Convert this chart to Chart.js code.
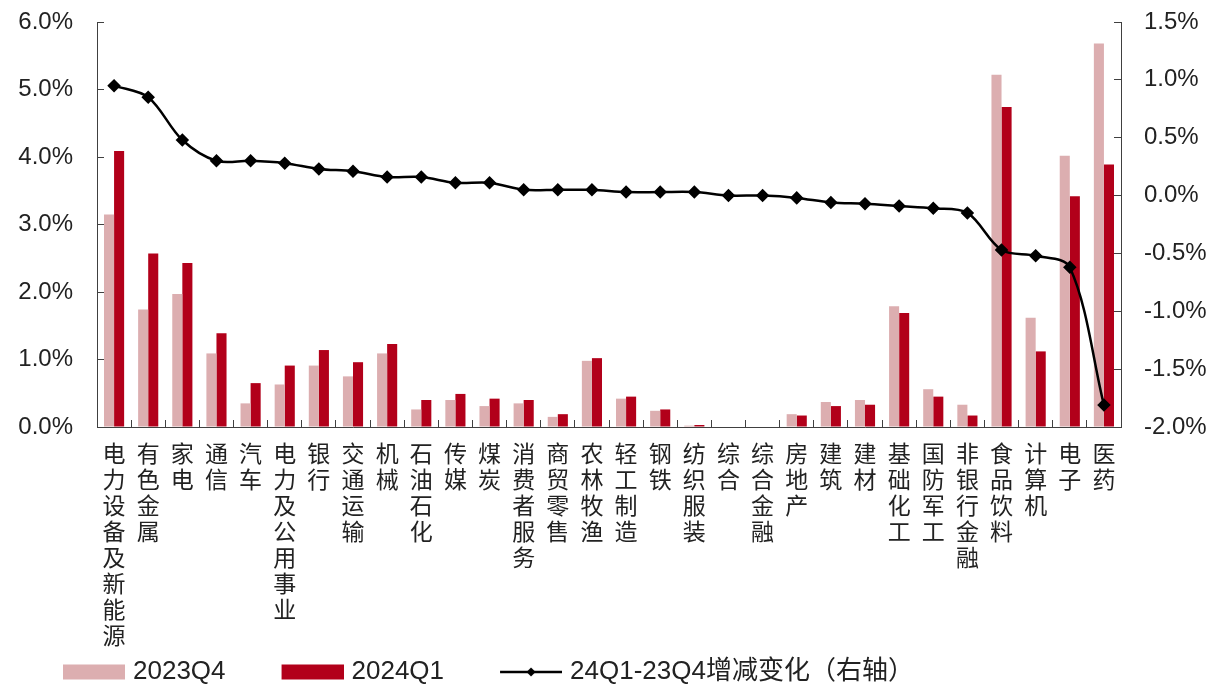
<!DOCTYPE html>
<html>
<head>
<meta charset="utf-8">
<script src="https://cdn.jsdelivr.net/npm/chart.js@4/dist/chart.umd.min.js"></script>
<style>
  body { margin: 0; background: #fff; }
</style>
</head>
<body>
<canvas id="myChart" width="1214" height="685"></canvas>
<script>
let categories = [
  "电力设备及新能源", "有色金属", "家电", "通信", "汽车", "电力及公用事业",
  "银行", "交通运输", "机械", "石油石化", "传媒", "煤炭", "消费者服务",
  "商贸零售", "农林牧渔", "轻工制造", "钢铁", "纺织服装", "综合", "综合金融",
  "房地产", "建筑", "建材", "基础化工", "国防军工", "非银行金融", "食品饮料",
  "计算机", "电子", "医药"
];

// holdings share, %
let q4Values = [3.15, 1.74, 1.97, 1.09, 0.35, 0.63, 0.91, 0.75, 1.09, 0.26,
  0.40, 0.31, 0.35, 0.15, 0.98, 0.42, 0.24, 0.02, 0, 0,
  0.19, 0.37, 0.40, 1.79, 0.56, 0.33, 5.22, 1.62, 4.02, 5.68];
let q1Values = [4.09, 2.57, 2.43, 1.39, 0.65, 0.91, 1.14, 0.96, 1.23, 0.40,
  0.49, 0.42, 0.40, 0.19, 1.02, 0.45, 0.26, 0.03, 0, 0,
  0.17, 0.31, 0.33, 1.69, 0.45, 0.17, 4.74, 1.12, 3.42, 3.89];
// change, right axis, %
let changeValues = [0.95, 0.85, 0.48, 0.30, 0.30, 0.28, 0.23, 0.21, 0.16, 0.16,
  0.11, 0.11, 0.05, 0.05, 0.05, 0.03, 0.03, 0.03, 0.00, 0.00,
  -0.02, -0.06, -0.07, -0.09, -0.11, -0.15, -0.47, -0.52, -0.62, -1.81];

let seriesNames = ["2023Q4", "2024Q1", "24Q1-23Q4增减变化（右轴）"];
let leftTicks = [0, 6, 1];
let rightTicks = [-2, 1.5, 0.5];

let pink = "#dcaeb0";
let red = "#b2001a";
let ink = "#222222";
let axisColor = "#404040";
let latin = "'Liberation Sans', Arial, 'Noto Sans CJK SC', sans-serif";
let cjk = "'Noto Sans CJK SC', sans-serif";

// legend swatches drawn into small canvases
let legendW = 103;
function swatch(kind, color) {
  let c = document.createElement("canvas");
  c.width = legendW + 10;
  c.height = 16;
  let g = c.getContext("2d");
  let x0 = c.width - 62;
  if (kind === "bar") {
    g.fillStyle = color;
    g.fillRect(x0, 0.5, 62, 15);
  } else {
    g.strokeStyle = color;
    g.lineWidth = 2.5;
    g.beginPath();
    g.moveTo(x0, 8);
    g.lineTo(c.width, 8);
    g.stroke();
    g.fillStyle = color;
    g.beginPath();
    let cx = x0 + 31;
    g.moveTo(cx, 3.5);
    g.lineTo(cx + 4.5, 8);
    g.lineTo(cx, 12.5);
    g.lineTo(cx - 4.5, 8);
    g.closePath();
    g.fill();
  }
  return c;
}

// fixed axis sizes so the plot area matches the original
function fixY(width) {
  return s => {
    s.width = width;
    s.paddingTop = 0;
    s.paddingBottom = 0;
  };
}

let ctx = document.getElementById("myChart").getContext("2d");

let myChart = new Chart(ctx, {
  data: {
    labels: categories.map(c => c.split("")),
    datasets: [
      {
        type: "line",
        label: seriesNames[2],
        data: changeValues,
        yAxisID: "y1",
        borderColor: "#000",
        backgroundColor: "#000",
        borderWidth: 2.5,
        tension: 0.33,
        pointStyle: "rectRot",
        pointRadius: 5,
        order: 0
      },
      {
        type: "bar",
        label: seriesNames[0],
        data: q4Values,
        yAxisID: "y",
        backgroundColor: pink,
        barPercentage: 1,
        categoryPercentage: 0.59,
        order: 1
      },
      {
        type: "bar",
        label: seriesNames[1],
        data: q1Values,
        yAxisID: "y",
        backgroundColor: red,
        barPercentage: 1,
        categoryPercentage: 0.59,
        order: 1
      }
    ]
  },
  options: {
    responsive: false,
    animation: false,
    devicePixelRatio: 1,
    layout: { padding: { left: 7, top: 22, right: 0, bottom: -10 } },
    plugins: {
      tooltip: { enabled: false },
      legend: {
        position: "bottom",
        align: "start",
        labels: {
          usePointStyle: true,
          pointStyleWidth: legendW,
          padding: 10,
          color: ink,
          font: { family: latin, size: 26 },
          generateLabels: function(chart) {
            return [
              { text: seriesNames[0], pointStyle: swatch("bar", pink), datasetIndex: 1, fillStyle: pink, strokeStyle: pink, lineWidth: 0, fontColor: ink },
              { text: seriesNames[1], pointStyle: swatch("bar", red), datasetIndex: 2, fillStyle: red, strokeStyle: red, lineWidth: 0, fontColor: ink },
              { text: seriesNames[2], pointStyle: swatch("line", "#000"), datasetIndex: 0, fillStyle: "#000", strokeStyle: "#000", lineWidth: 0, fontColor: ink }
            ];
          }
        }
      }
    },
    scales: {
      x: {
        afterFit: s => { s.height = 222; },
        grid: { drawOnChartArea: false, tickLength: -7, color: axisColor },
        border: { color: axisColor, width: 1 },
        ticks: {
          autoSkip: false,
          maxRotation: 0,
          minRotation: 0,
          padding: 20,
          color: ink,
          font: { family: cjk, size: 23, lineHeight: "26px" }
        }
      },
      y: {
        position: "left",
        min: leftTicks[0],
        max: leftTicks[1],
        afterFit: fixY(90),
        grid: { drawOnChartArea: false, tickLength: -7, color: axisColor },
        border: { color: axisColor, width: 1 },
        ticks: {
          stepSize: leftTicks[2],
          padding: 31,
          color: ink,
          font: { family: latin, size: 24 },
          callback: v => v.toFixed(1) + "%"
        }
      },
      y1: {
        position: "right",
        min: rightTicks[0],
        max: rightTicks[1],
        afterFit: fixY(93),
        grid: { drawOnChartArea: false, tickLength: -7, color: axisColor },
        border: { color: axisColor, width: 1 },
        ticks: {
          stepSize: rightTicks[2],
          padding: 30,
          color: ink,
          font: { family: latin, size: 24 },
          callback: v => v.toFixed(1) + "%"
        }
      }
    }
  }
});
</script>
</body>
</html>
